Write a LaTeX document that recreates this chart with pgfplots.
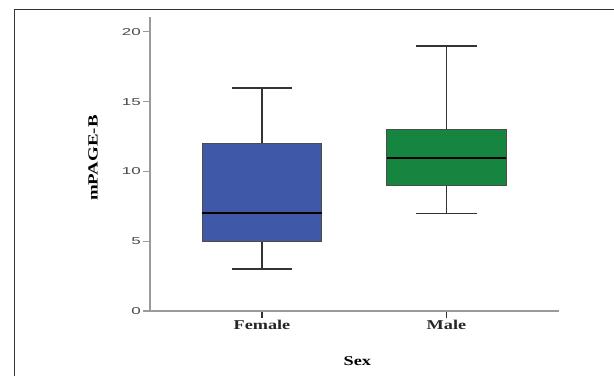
\documentclass[border=0pt]{standalone}
\usepackage{fontspec}
\setmainfont{Liberation Serif}
\newfontfamily\ticksf[FakeStretch=1.7]{Liberation Sans}
\newfontfamily\labserif[FakeStretch=1.35]{Liberation Serif}
\usepackage{pgfplots}
\pgfplotsset{compat=1.18}
\definecolor{fblue}{HTML}{3F58A8}
\definecolor{mgreen}{HTML}{16853F}
\definecolor{axgray}{HTML}{9A9A9A}
\definecolor{tickgray}{HTML}{4A4A4A}
\begin{document}
\begin{tikzpicture}
\useasboundingbox (0pt,0pt) rectangle (614pt,376pt);
\draw[line width=1pt, black!80] (14pt,0pt) -- (14pt,366pt) -- (614pt,366pt);
\begin{axis}[
  at={(150pt,65pt)}, anchor=south west,
  scale only axis, width=409pt, height=294pt,
  xmin=0.393, xmax=2.61, ymin=0, ymax=21.07,
  axis x line*=bottom, axis y line*=left,
  axis line style={axgray, line width=1.3pt},
  xtick={1,2}, xticklabels={\textbf{Female},\textbf{Male}},
  ytick={0,5,10,15,20},
  tick align=outside,
  major tick length=7pt,
  xtick style={black!80, line width=1.1pt},
  ytick style={axgray, line width=1.1pt},
  /pgf/number format/assume math mode=true,
  yticklabel style={font=\ticksf\fontsize{10}{11}\selectfont, text=tickgray, inner sep=2pt},
  xticklabel style={font=\labserif\fontsize{13.5}{14}\selectfont, text=black!85, inner sep=2pt},
  xlabel={\textbf{Sex}}, ylabel={\textbf{mPAGE-B}},
  xlabel style={font=\labserif\fontsize{13.5}{14}\selectfont, at={(axis description cs:0.507,-0.17)}, anchor=center},
  ylabel style={font=\labserif\fontsize{14}{15}\selectfont, at={(axis description cs:-0.139,0.52)}, anchor=center},
  clip=false,
]
% Female: lower whisker 3, Q1 5, median 7, Q3 12, upper whisker 16
\addplot[black!80, line width=1.6pt] coordinates {(1,12) (1,16)};
\addplot[black!80, line width=1.6pt] coordinates {(1,3) (1,5)};
\addplot[black!80, line width=1.6pt] coordinates {(0.835,16) (1.165,16)};
\addplot[black!80, line width=1.6pt] coordinates {(0.835,3) (1.165,3)};
\addplot[fill=fblue, draw=black!70, line width=0.9pt] coordinates {(0.675,5) (1.325,5) (1.325,12) (0.675,12)} -- cycle;
\addplot[black, line width=2pt] coordinates {(0.675,7) (1.325,7)};
% Male: lower whisker 7, Q1 9, median 11, Q3 13, upper whisker 19
\addplot[black!80, line width=1.6pt] coordinates {(2,13) (2,19)};
\addplot[black!80, line width=1.6pt] coordinates {(2,7) (2,9)};
\addplot[black!80, line width=1.6pt] coordinates {(1.835,19) (2.165,19)};
\addplot[black!80, line width=1.6pt] coordinates {(1.835,7) (2.165,7)};
\addplot[fill=mgreen, draw=black!70, line width=0.9pt] coordinates {(1.675,9) (2.325,9) (2.325,13) (1.675,13)} -- cycle;
\addplot[black, line width=2pt] coordinates {(1.675,11) (2.325,11)};
\end{axis}
\end{tikzpicture}
\end{document}
